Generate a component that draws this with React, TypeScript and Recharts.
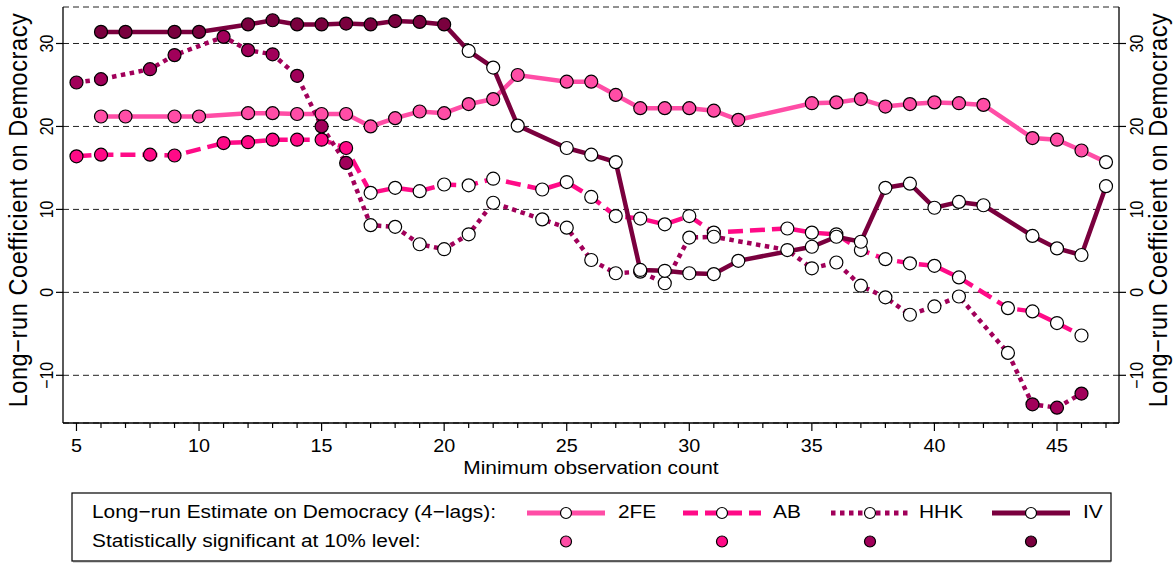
import { CartesianGrid, Line, LineChart, XAxis, YAxis } from "recharts";

// minimum observation count (x)
const obs = [
  5, 6, 7, 8, 9, 10, 11, 12, 13, 14, 15, 16, 17, 18, 19, 20, 21, 22, 23, 24, 25, 26,
  27, 28, 29, 30, 31, 32, 33, 34, 35, 36, 37, 38, 39, 40, 41, 42, 43, 44, 45, 46, 47,
];

// long-run coefficients, aligned with obs (null = not estimated)
const fe2 = [
  null, 21.2, 21.2, null, 21.2, 21.2, null, 21.6, 21.6, 21.5, 21.5, 21.5, 20.0, 21.0, 21.8, 21.6,
  22.7, 23.3, 26.2, null, 25.4, 25.4, 23.8, 22.2, 22.2, 22.2, 21.9, 20.8, null, null, 22.8, 22.9,
  23.3, 22.4, 22.7, 22.9, 22.8, 22.6, null, 18.6, 18.4, 17.1, 15.7,
];
const ab = [
  16.4, 16.6, null, 16.6, 16.5, null, 18.0, 18.1, 18.4, 18.4, 18.4, 17.4, 12.0, 12.6, 12.2, 13.0,
  12.9, 13.7, null, 12.4, 13.3, 11.5, 9.2, 8.9, 8.2, 9.2, 7.2, null, null, 7.7, 7.2, 7.0,
  5.1, 4.0, 3.5, 3.2, 1.8, null, -1.9, -2.3, -3.7, -5.2, null,
];
const hhk = [
  25.3, 25.7, null, 26.9, 28.6, null, 30.8, 29.2, 28.7, 26.1, 20.0, 15.6, 8.1, 7.9, 5.8, 5.2,
  7.0, 10.8, null, 8.8, 7.8, 3.9, 2.3, 2.5, 1.1, 6.6, 6.7, null, null, 5.1, 2.9, 3.6,
  0.8, -0.6, -2.7, -1.7, -0.5, null, -7.3, -13.5, -13.9, -12.2, null,
];
const iv = [
  null, 31.4, 31.4, null, 31.4, 31.4, null, 32.3, 32.8, 32.3, 32.3, 32.4, 32.3, 32.7, 32.6, 32.3,
  29.1, 27.1, 20.1, null, 17.4, 16.6, 15.7, 2.7, 2.6, 2.3, 2.2, 3.8, null, null, 5.5, 6.7,
  6.1, 12.6, 13.1, 10.2, 10.9, 10.5, null, 6.8, 5.3, 4.5, 12.8,
];

// obs values where the estimate is significant at 10%
const sigFe2 = [
  6, 7, 9, 10, 12, 13, 14, 15, 16, 17, 18, 19, 20, 21, 22, 23, 25, 26, 27, 28, 29, 30, 31, 32,
  35, 36, 37, 38, 39, 40, 41, 42, 44, 45, 46,
];
const sigAb = [5, 6, 8, 9, 11, 12, 13, 14, 15, 16];
const sigHhk = [5, 6, 8, 9, 11, 12, 13, 14, 15, 16, 44, 45, 46];
const sigIv = [6, 7, 9, 10, 12, 13, 14, 15, 16, 17, 18, 19, 20];

const yTicks = [-10, 0, 10, 20, 30];

const FONT = '"Liberation Sans", Arial, Helvetica, sans-serif';
const SX = 1.13;

const series = [
  { key: "fe2", name: "2FE", color: "#ff4da6", dash: undefined, sig: sigFe2, lx: 527, tx: 618 },
  { key: "ab", name: "AB", color: "#ff0a87", dash: "15 7", sig: sigAb, lx: 683, tx: 773 },
  { key: "hhk", name: "HHK", color: "#a1005a", dash: "4.5 4.5", sig: sigHhk, lx: 831, tx: 919 },
  { key: "iv", name: "IV", color: "#7a003e", dash: undefined, sig: sigIv, lx: 992, tx: 1083 },
];

const data = obs.map((o, i) => ({ obs: o, fe2: fe2[i], ab: ab[i], hhk: hhk[i], iv: iv[i] }));

const makeDot = (color: string, sig: number[]) => (p: any) => {
  const { cx, cy, value, payload, index } = p;
  if (value == null || cx == null || cy == null) return <g key={`e${index}`} />;
  const filled = sig.includes(payload.obs);
  return (
    <circle
      key={`d${index}`}
      cx={cx}
      cy={cy}
      r={6.5}
      fill={filled ? color : "#fff"}
      stroke="#000"
      strokeWidth={1.2}
    />
  );
};

const XTick = ({ x, y, payload }: any) => {
  const major = payload.value % 5 === 0;
  return (
    <g>
      <line x1={x} x2={x} y1={y} y2={y + (major ? 8 : 5)} stroke="#000" strokeWidth={1.2} />
      {major && (
        <text
          transform={`translate(${x},${y + 28.5}) scale(${SX},1)`}
          textAnchor="middle"
          fontFamily={FONT}
          fontSize={17.5}
          fill="#000"
        >
          {payload.value}
        </text>
      )}
    </g>
  );
};

const YTick = ({ x, y, payload, side }: any) => {
  const dir = side === "left" ? -1 : 1;
  const bx = side === "left" ? x - 10 : x + 24;
  return (
    <g>
      <line x1={x} x2={x + dir * 7} y1={y} y2={y} stroke="#000" strokeWidth={1.2} />
      <text
        transform={`translate(${bx},${y}) scale(${SX},1) rotate(-90)`}
        textAnchor="middle"
        fontFamily={FONT}
        fontSize={16}
        fill="#000"
      >
        {payload.value < 0 ? `\u2212${Math.abs(payload.value)}` : payload.value}
      </text>
    </g>
  );
};

export default function App() {
  const yTitle = "Long\u2212run Coefficient on Democracy";
  return (
    <div style={{ position: "absolute", left: 0, top: 0, width: 1174, height: 563, background: "#fff" }}>
      <LineChart width={1174} height={563} data={data} margin={{ top: 7, right: 0, bottom: 80, left: 0 }}>
        <CartesianGrid vertical={false} stroke="#222" strokeDasharray="6 4" strokeWidth={1} />
        <XAxis
          dataKey="obs"
          type="number"
          domain={[4.45, 47.53]}
          ticks={obs}
          interval={0}
          allowDataOverflow
          height={60}
          tickSize={0}
          tickMargin={0}
          tickLine={false}
          axisLine={{ stroke: "#000", strokeWidth: 1.3 }}
          tick={<XTick />}
        />
        <YAxis
          domain={[-15.75, 34.4]}
          ticks={yTicks}
          allowDataOverflow
          width={63}
          tickSize={0}
          tickMargin={0}
          tickLine={false}
          axisLine={{ stroke: "#000", strokeWidth: 1.3 }}
          tick={<YTick side="left" />}
        />
        <YAxis
          yAxisId="right"
          orientation="right"
          domain={[-15.75, 34.4]}
          ticks={yTicks}
          allowDataOverflow
          width={55}
          tickSize={0}
          tickMargin={0}
          tickLine={false}
          axisLine={{ stroke: "#000", strokeWidth: 1.3 }}
          tick={<YTick side="right" />}
        />
        {series.map((s) => (
          <Line
            key={s.key}
            dataKey={s.key}
            name={s.name}
            type="linear"
            stroke={s.color}
            strokeWidth={4.5}
            strokeDasharray={s.dash}
            strokeLinecap="butt"
            connectNulls
            dot={makeDot(s.color, s.sig)}
            activeDot={false}
            isAnimationActive={false}
          />
        ))}
      </LineChart>

      <svg
        width={1174}
        height={563}
        style={{ position: "absolute", left: 0, top: 0, pointerEvents: "none" }}
      >
        <g fontFamily={FONT} fill="#000">
          <text
            transform={`translate(27,210) scale(${SX},1) rotate(-90)`}
            textAnchor="middle"
            fontSize={23.5}
            letterSpacing={0.6}
          >
            {yTitle}
          </text>
          <text
            transform={`translate(1167,210) scale(${SX},1) rotate(-90)`}
            textAnchor="middle"
            fontSize={23.5}
            letterSpacing={0.6}
          >
            {yTitle}
          </text>
          <text transform={`translate(591,474) scale(${SX},1)`} textAnchor="middle" fontSize={18.5}>
            Minimum observation count
          </text>
        </g>

        <rect x={72} y={493} width={1039} height={68} fill="#fff" stroke="#000" strokeWidth={1.2} />
        <line x1={73} x2={1111} y1={561.5} y2={561.5} stroke="#555" strokeWidth={1.5} />
        <g fontFamily={FONT} fontSize={18.5} fill="#000">
          <text transform={`translate(92,518) scale(${SX},1)`}>
            Long{"\u2212"}run Estimate on Democracy (4{"\u2212"}lags):
          </text>
          <text transform={`translate(92,547) scale(${SX},1)`}>Statistically significant at 10% level:</text>
          {series.map((s) => (
            <g key={s.key}>
              <line
                x1={s.lx}
                x2={s.lx + 78}
                y1={513}
                y2={513}
                stroke={s.color}
                strokeWidth={5}
                strokeDasharray={s.dash}
              />
              <circle cx={s.lx + 39} cy={513} r={5.5} fill="#fff" stroke="#000" strokeWidth={1.2} />
              <circle cx={s.lx + 39} cy={541.5} r={5.5} fill={s.color} stroke="#000" strokeWidth={1.2} />
              <text transform={`translate(${s.tx},518) scale(${SX},1)`}>{s.name}</text>
            </g>
          ))}
        </g>
      </svg>
    </div>
  );
}
